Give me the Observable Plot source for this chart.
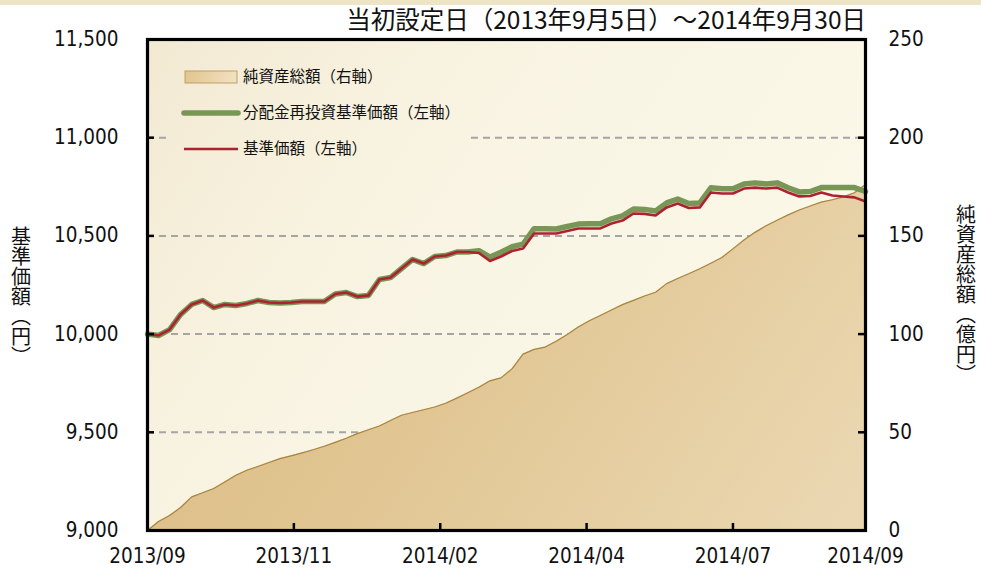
<!DOCTYPE html>
<html><head><meta charset="utf-8">
<script src="https://cdn.jsdelivr.net/npm/d3@7"></script>
<script src="https://cdn.jsdelivr.net/npm/@observablehq/plot@0.6"></script>
<style>
html,body{margin:0;padding:0;background:#fff;}
#chart{position:relative;width:981px;height:568px;overflow:hidden;}
</style></head><body><div id="chart"></div>
<script>
// business-day index of each sample (every 4 business days, 2013/09/05 .. 2014/09/30)
const days = [0,4,8,12,16,20,24,28,32,36,40,44,48,52,56,60,64,68,72,76,80,84,88,92,96,100,104,108,112,116,120,124,128,132,136,140,144,148,152,156,160,164,168,172,176,180,184,188,192,196,200,204,208,212,216,220,224,228,232,236,240,244,248,252,256,260];
// 基準価額 (円)
const navValues = [10000,9993,10023,10100,10151,10171,10135,10151,10146,10156,10171,10161,10158,10161,10166,10166,10166,10204,10212,10191,10197,10278,10288,10334,10380,10359,10395,10400,10418,10418,10413,10372,10395,10423,10436,10512,10512,10512,10525,10538,10538,10538,10563,10578,10614,10612,10604,10645,10665,10642,10645,10721,10716,10716,10741,10746,10741,10746,10721,10701,10703,10721,10706,10701,10696,10675];
// 分配金再投資基準価額 (円)
const reinvestValues = [10000,9993,10023,10100,10151,10171,10135,10151,10146,10156,10171,10161,10158,10161,10166,10166,10166,10204,10212,10191,10197,10278,10288,10334,10380,10359,10395,10400,10418,10418,10425,10392,10417,10445,10458,10537,10537,10535,10548,10560,10562,10562,10587,10602,10637,10635,10627,10668,10688,10665,10668,10745,10740,10740,10764,10770,10764,10770,10745,10724,10726,10746,10746,10746,10746,10726];
// 純資産総額 (億円)
const netAssets = [0,4.6,7.6,11.7,17.1,19.2,21.4,24.7,28.1,30.7,32.6,34.6,36.6,38.0,39.5,41.1,42.9,44.9,47.0,49.3,51.3,53.2,56.0,58.7,60.1,61.5,62.9,64.8,67.4,70.1,72.9,76.2,77.7,82.3,89.8,92.2,93.4,96.4,99.8,103.6,106.8,109.5,112.3,115.0,117.2,119.4,121.3,125.7,128.3,130.7,133.3,136.1,139.0,143.4,147.9,151.8,155.2,158.0,160.7,163.2,165.2,167.2,168.4,169.9,172.0,176.2];

const xTickDays = [0,53,106,159,212,260];
const xTickLabels = ["2013/09","2013/11","2014/02","2014/04","2014/07","2014/09"];
const yTicks = [9000,9500,10000,10500,11000,11500];
const gridValues = [9500,10000,10500,11000];
const title = "当初設定日（2013年9月5日）～2014年9月30日";
const leftLabel = "基準価額（円）";
const rightLabel = "純資産総額（億円）";
const legendItems = ["純資産総額（右軸）","分配金再投資基準価額（左軸）","基準価額（左軸）"];

const data = days.map((d,i)=>({day:d, nav:navValues[i], reinvest:reinvestValues[i], assets:netAssets[i]}));
const toLeft = v => 9000 + v*10; // right axis 0–250 mapped onto left 9000–11500

const numFont = "'DejaVu Sans Condensed','Liberation Sans',Arial,sans-serif";
const jpFont = "'Noto Sans CJK JP','Noto Sans CJK SC',sans-serif";

const plot = Plot.plot({
  width:981, height:568, marginLeft:147, marginRight:116, marginTop:39, marginBottom:38,
  style:{background:"transparent", fontFamily:numFont, fontSize:"20.5px", color:"#111"},
  x:{domain:[0,260]},
  y:{domain:[9000,11500]},
  marks:[
    Plot.frame({fill:"url(#plotBg)", stroke:null}),
    Plot.ruleY(gridValues,{stroke:"#a5a5a5", strokeWidth:2, strokeDasharray:"7,5"}),
    Plot.areaY(data,{x:"day", y1:()=>9000, y2:d=>toLeft(d.assets), fill:"url(#areaGrad)", curve:"linear"}),
    Plot.lineY(data,{x:"day", y:d=>toLeft(d.assets), stroke:"#a9853f", strokeWidth:1.2}),
    Plot.lineY(data,{x:"day", y:"reinvest", stroke:"#789656", strokeWidth:5.5, strokeLinejoin:"round"}),
    Plot.lineY(data,{x:"day", y:"nav", stroke:"#ad2230", strokeWidth:2.6, strokeLinejoin:"round"}),
    Plot.ruleY(yTicks,{insetRight:711, stroke:"#000", strokeWidth:2.5}),
    Plot.ruleY(yTicks,{insetLeft:711, stroke:"#000", strokeWidth:2.5}),
    Plot.ruleX(xTickDays,{insetTop:484, stroke:"#000", strokeWidth:2.5}),
    Plot.frame({stroke:"#000", strokeWidth:3.2}),
    Plot.axisY({anchor:"left", ticks:yTicks, tickSize:0, tickPadding:29, tickFormat:d3.format(","), label:null}),
    Plot.axisY({anchor:"right", ticks:yTicks, tickSize:0, tickPadding:23, tickFormat:d=>String((d-9000)/10), label:null}),
    Plot.axisX({ticks:xTickDays, tickSize:0, tickPadding:18, tickFormat:(d,i)=>xTickLabels[xTickDays.indexOf(d)], label:null})
  ]
});
document.getElementById("chart").appendChild(plot);

const svg = d3.select(plot);
const defs = svg.insert("defs",":first-child");
const g1 = defs.append("linearGradient").attr("id","plotBg").attr("gradientUnits","userSpaceOnUse")
  .attr("x1",147).attr("y1",39).attr("x2",865).attr("y2",530);
g1.append("stop").attr("offset",0).attr("stop-color","#f2e9d2");
g1.append("stop").attr("offset",0.3).attr("stop-color","#f8f3e1");
g1.append("stop").attr("offset",1).attr("stop-color","#fcfaec");
const g2 = defs.append("linearGradient").attr("id","areaGrad").attr("gradientUnits","userSpaceOnUse")
  .attr("x1",147).attr("y1",39).attr("x2",865).attr("y2",530);
g2.append("stop").attr("offset",0).attr("stop-color","#d8b77f");
g2.append("stop").attr("offset",0.5).attr("stop-color","#e1c693");
g2.append("stop").attr("offset",1).attr("stop-color","#ebd8b3");
const g3 = defs.append("linearGradient").attr("id","swGrad").attr("gradientUnits","userSpaceOnUse")
  .attr("x1",185).attr("y1",71).attr("x2",237).attr("y2",83);
g3.append("stop").attr("offset",0).attr("stop-color","#e2c48f");
g3.append("stop").attr("offset",1).attr("stop-color","#f2e2c2");

// top band
svg.insert("rect","defs + *").attr("x",0).attr("y",0).attr("width",981).attr("height",5).attr("fill","#eee4c6");

// legend
const lg = svg.append("g").attr("font-family",jpFont).attr("font-size","15.5px").attr("fill","#111").attr("text-anchor","start");
lg.append("rect").attr("x",168).attr("y",56).attr("width",300).attr("height",110).attr("fill","url(#plotBg)");
lg.append("rect").attr("x",185).attr("y",71).attr("width",52).attr("height",12)
  .attr("fill","url(#swGrad)").attr("stroke","#c29f62").attr("stroke-width",1);
lg.append("line").attr("x1",184).attr("x2",238).attr("y1",113).attr("y2",113)
  .attr("stroke","#789656").attr("stroke-width",5.5).attr("stroke-linecap","round");
lg.append("line").attr("x1",184).attr("x2",238).attr("y1",149).attr("y2",149)
  .attr("stroke","#ad2230").attr("stroke-width",2.6);
[77,113,149].forEach((y,i)=>{
  lg.append("text").attr("x",243).attr("y",y).attr("dy","0.35em").attr("text-anchor","start").text(legendItems[i]);
});

// title
svg.append("text").attr("x",866).attr("y",29).attr("text-anchor","end")
  .attr("font-family",jpFont).attr("font-size","24.5px").attr("fill","#111").text(title);

// vertical axis titles
svg.append("text").attr("x",21).attr("y",226).attr("text-anchor","start").attr("font-family",jpFont).attr("font-size","20px")
  .attr("fill","#111").style("writing-mode","vertical-rl").text(leftLabel);
svg.append("text").attr("x",966).attr("y",204).attr("text-anchor","start").attr("font-family",jpFont).attr("font-size","20px")
  .attr("fill","#111").style("writing-mode","vertical-rl").text(rightLabel);
</script></body></html>
